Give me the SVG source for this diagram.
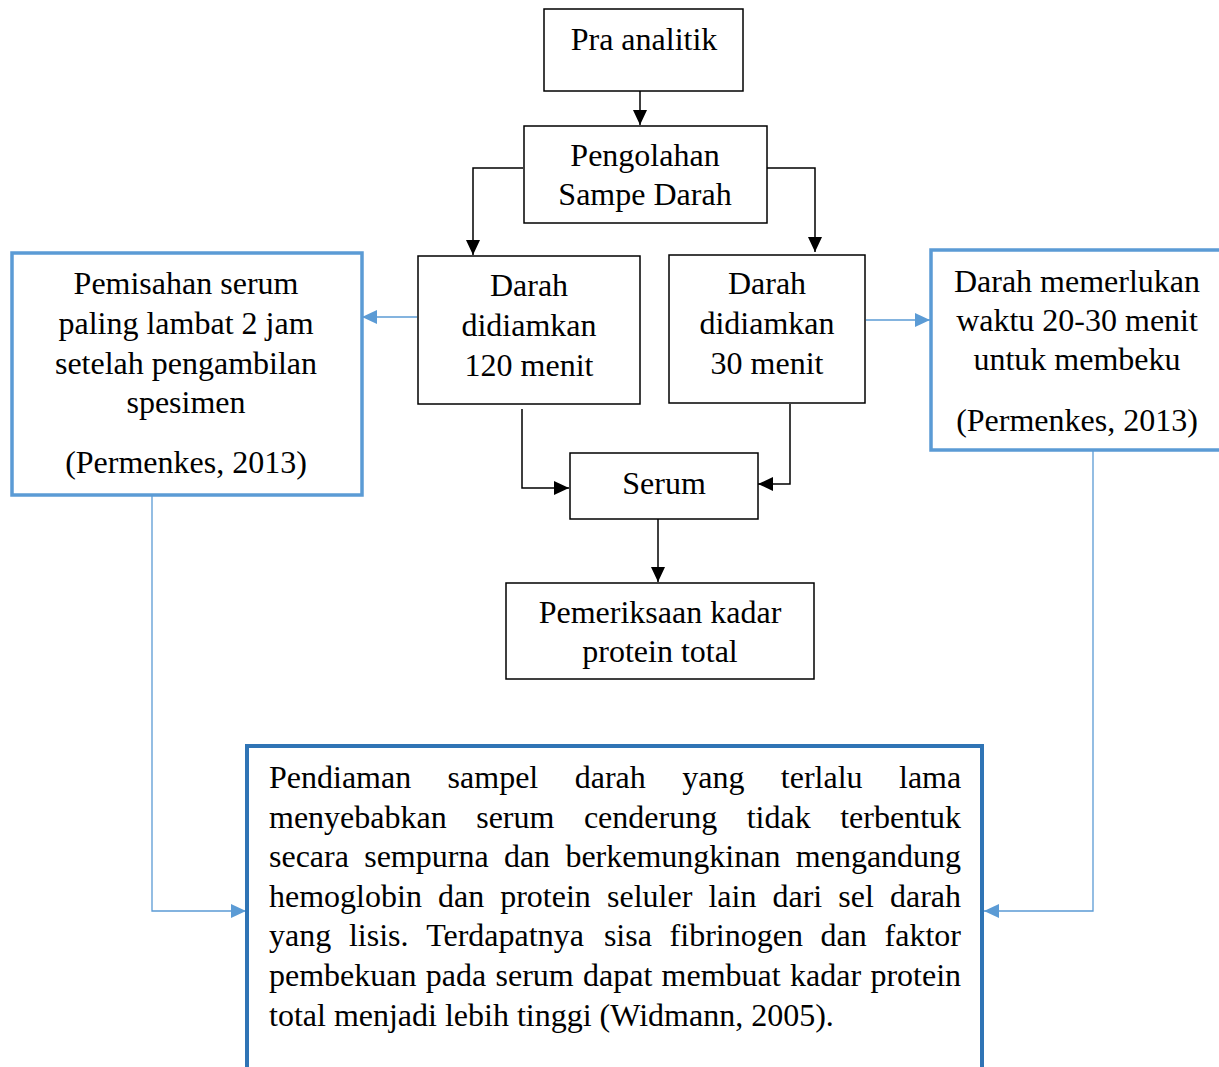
<svg xmlns="http://www.w3.org/2000/svg" width="1219" height="1067" viewBox="0 0 1219 1067">
<style>
  text { font-family: "Liberation Serif", "Times New Roman", serif; font-size: 32px; fill: #000; }
  .c { text-anchor: middle; }
  .e { text-anchor: end; }
  .box { fill: #fff; stroke: #000; stroke-width: 1.5; }
  .bbox { fill: #fff; stroke: #5B9BD5; stroke-width: 3.5; }
  .dbox { fill: #fff; stroke: #2F74B5; stroke-width: 4; }
  .k { fill: none; stroke: #000; stroke-width: 1.5; marker-end: url(#ak); }
  .b { fill: none; stroke: #5B9BD5; stroke-width: 1.3; marker-end: url(#ab); }
</style>
<defs>
  <marker id="ak" markerUnits="userSpaceOnUse" markerWidth="15" markerHeight="14" refX="15" refY="7" orient="auto">
    <path d="M0,0 L15,7 L0,14 z" fill="#000"/>
  </marker>
  <marker id="ab" markerUnits="userSpaceOnUse" markerWidth="15" markerHeight="14" refX="15" refY="7" orient="auto">
    <path d="M0,0 L15,7 L0,14 z" fill="#5B9BD5"/>
  </marker>
</defs>
<rect width="1219" height="1067" fill="#fff"/>

<g id="connectors">
  <path class="k" d="M640,91 V125"/>
  <path class="k" d="M523,168 H473 V255"/>
  <path class="k" d="M767,168 H815 V252"/>
  <path class="k" d="M522,409 V488 H569"/>
  <path class="k" d="M790,404 V484 H758"/>
  <path class="k" d="M658,519 V582"/>
  <path class="b" d="M417,317 H362"/>
  <path class="b" d="M866,320 H930"/>
  <path class="b" d="M152,496 V911 H246"/>
  <path class="b" d="M1093,451 V911 H984"/>
</g>

<g id="pra-analitik">
  <rect class="box" x="544" y="9" width="199" height="82"/>
  <text class="c" x="644" y="50">Pra analitik</text>
</g>

<g id="pengolahan">
  <rect class="box" x="524" y="126" width="243" height="97"/>
  <text class="c" x="645" y="166">Pengolahan</text>
  <text class="c" x="645" y="205">Sampe Darah</text>
</g>

<g id="darah-120">
  <rect class="box" x="418" y="256" width="222" height="148"/>
  <text class="c" x="529" y="296">Darah</text>
  <text class="c" x="529" y="336">didiamkan</text>
  <text class="c" x="529" y="376">120 menit</text>
</g>

<g id="darah-30">
  <rect class="box" x="669" y="255" width="196" height="148"/>
  <text class="c" x="767" y="294">Darah</text>
  <text class="c" x="767" y="334">didiamkan</text>
  <text class="c" x="767" y="374">30 menit</text>
</g>

<g id="pemisahan">
  <rect class="bbox" x="12" y="253" width="350" height="242"/>
  <text class="c" x="186" y="294">Pemisahan serum</text>
  <text class="c" x="186" y="334">paling lambat 2 jam</text>
  <text class="c" x="186" y="374">setelah pengambilan</text>
  <text class="c" x="186" y="413">spesimen</text>
  <text class="c" x="186" y="473">(Permenkes, 2013)</text>
</g>

<g id="membeku">
  <rect class="bbox" x="931" y="250" width="300" height="200"/>
  <text class="c" x="1077" y="292">Darah memerlukan</text>
  <text class="c" x="1077" y="331">waktu 20-30 menit</text>
  <text class="c" x="1077" y="370">untuk membeku</text>
  <text class="c" x="1077" y="431">(Permenkes, 2013)</text>
</g>

<g id="serum">
  <rect class="box" x="570" y="453" width="188" height="66"/>
  <text class="c" x="664" y="494">Serum</text>
</g>

<g id="pemeriksaan">
  <rect class="box" x="506" y="583" width="308" height="96"/>
  <text class="c" x="660" y="623">Pemeriksaan kadar</text>
  <text class="c" x="660" y="662">protein total</text>
</g>

<g id="penjelasan">
  <rect class="dbox" x="247" y="746" width="735" height="340"/>
  <text y="788"><tspan x="269">Pendiaman</tspan><tspan x="447.6">sampel</tspan><tspan x="574.7">darah</tspan><tspan x="682.2">yang</tspan><tspan x="780.8">terlalu</tspan><tspan x="899">lama</tspan></text>
  <text y="827.6"><tspan x="269">menyebabkan</tspan><tspan x="476.2">serum</tspan><tspan x="583.9">cenderung</tspan><tspan x="746.7">tidak</tspan><tspan x="840.2">terbentuk</tspan></text>
  <text y="867.2"><tspan x="269">secara</tspan><tspan x="364.2">sempurna</tspan><tspan x="503.9">dan</tspan><tspan x="565.4">berkemungkinan</tspan><tspan x="795.8">mengandung</tspan></text>
  <text y="906.8"><tspan x="269">hemoglobin</tspan><tspan x="438">dan</tspan><tspan x="500.2">protein</tspan><tspan x="607">seluler</tspan><tspan x="708.4">lain</tspan><tspan x="772.5">dari</tspan><tspan x="838.3">sel</tspan><tspan x="890">darah</tspan></text>
  <text y="946.4"><tspan x="269">yang</tspan><tspan x="348.9">lisis.</tspan><tspan x="426.2">Terdapatnya</tspan><tspan x="603.9">sisa</tspan><tspan x="669.6">fibrinogen</tspan><tspan x="820.6">dan</tspan><tspan x="884.6">faktor</tspan></text>
  <text y="986"><tspan x="269">pembekuan</tspan><tspan x="425.8">pada</tspan><tspan x="495.5">serum</tspan><tspan x="583">dapat</tspan><tspan x="661.6">membuat</tspan><tspan x="790">kadar</tspan><tspan x="870.4">protein</tspan></text>
  <text x="269" y="1025.6">total menjadi lebih tinggi (Widmann, 2005).</text>
</g>
</svg>
